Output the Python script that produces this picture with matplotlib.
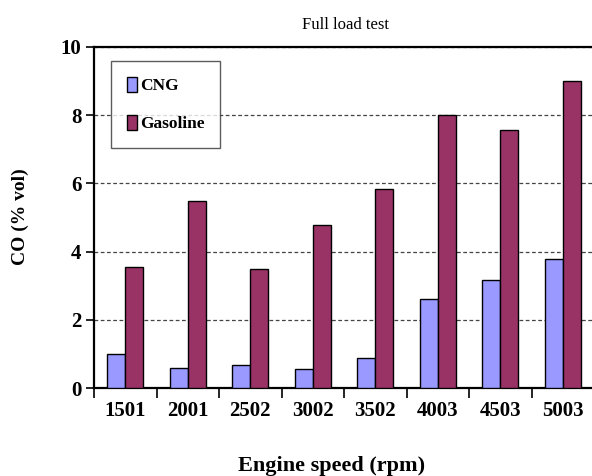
import numpy as np
import matplotlib.pyplot as plt
from matplotlib.patches import Patch

# =====================================================
# DATA
# =====================================================

speeds = ["1501", "2001", "2502", "3002", "3502", "4003", "4503", "5003"]
cng = [1.0, 0.60, 0.66, 0.55, 0.88, 2.61, 3.16, 3.77]
gasoline = [3.56, 5.49, 3.50, 4.78, 5.83, 8.0, 7.56, 9.0]
yticks = [0, 2, 4, 6, 8, 10]

# =====================================================
# PLOT
# =====================================================

plt.rcParams["font.family"] = ["Liberation Serif", "DejaVu Serif"]

fig = plt.figure(figsize=(5.92, 4.76), dpi=100)
ax = fig.add_axes([94 / 592, 88 / 476, 500 / 592, 341 / 476])

x = np.arange(len(speeds))
w = 0.29

ax.bar(x - w / 2, cng, width=w, color="#9999FF",
       edgecolor="black", linewidth=1.0, zorder=3)
ax.bar(x + w / 2, gasoline, width=w, color="#993366",
       edgecolor="black", linewidth=1.0, zorder=3)

ax.set_xlim(-0.5, len(speeds) - 0.5)
ax.set_ylim(0, 10)

ax.set_yticks(yticks)
ax.set_yticklabels([str(v) for v in yticks], fontsize=15, fontweight="bold")
ax.yaxis.grid(True, linestyle=(0, (3, 2)), color="#444444", linewidth=0.9)
ax.set_axisbelow(True)

# category boundaries as x ticks
ax.set_xticks(np.arange(len(speeds) + 1) - 0.5)
ax.set_xticklabels([])
ax.set_xticks(x, minor=True)
ax.set_xticklabels(speeds, minor=True, fontsize=15, fontweight="bold")
ax.tick_params(axis="x", which="major", direction="out", length=7, width=1.2)
ax.tick_params(axis="x", which="minor", length=0, pad=9)
ax.tick_params(axis="y", direction="out", length=6, width=1.2, pad=3)

for s in ["left", "bottom", "top"]:
    ax.spines[s].set_linewidth(1.6)
ax.spines["right"].set_visible(False)

fig.text(20 / 592, 1 - 217 / 476, "CO (% vol)", fontsize=14, fontweight="bold",
         rotation=90, ha="center", va="center")
fig.text(332 / 592, 1 - 466 / 476, "Engine speed (rpm)", fontsize=16,
         fontweight="bold", ha="center", va="center")
fig.text(346 / 592, 1 - 25 / 476, "Full load test", fontsize=12,
         ha="center", va="center")

handles = [
    Patch(facecolor="#9999FF", edgecolor="black", label="CNG"),
    Patch(facecolor="#993366", edgecolor="black", label="Gasoline"),
]
leg = ax.legend(handles=handles, loc="upper left",
                bbox_to_anchor=(17 / 500, 327 / 341),
                prop={"family": "Liberation Serif", "weight": "bold", "size": 12.5},
                frameon=True, fancybox=False, edgecolor="#333333",
                handlelength=0.6, handleheight=0.95, handletextpad=0.15,
                labelspacing=1.2, borderpad=0.9, borderaxespad=0)
leg.get_frame().set_linewidth(1.0)

plt.savefig("out.png", dpi=100)
